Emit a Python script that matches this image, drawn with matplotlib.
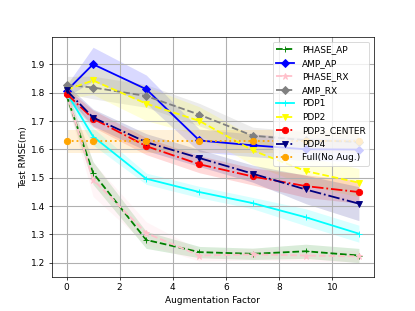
"""
Test RMSE vs augmentation factor for several augmentation methods.
"""

import numpy as np
import matplotlib.pyplot as plt

# Augmentation factors
factors = [0, 1, 3, 5, 7, 9, 11]

# Mean RMSE per method
phase_ap = [1.79, 1.516, 1.280, 1.237, 1.231, 1.240, 1.225]
amp_ap = [1.806, 1.900, 1.812, 1.631, 1.614, 1.600, 1.599]
phase_rx = [1.80, 1.493, 1.304, 1.225, 1.229, 1.225, 1.222]
amp_rx = [1.827, 1.818, 1.788, 1.722, 1.648, 1.632, 1.626]
pdp1 = [1.80, 1.645, 1.496, 1.449, 1.410, 1.360, 1.302]
pdp2 = [1.81, 1.843, 1.761, 1.700, 1.596, 1.523, 1.482]
pdp3_center = [1.796, 1.708, 1.611, 1.547, 1.504, 1.470, 1.449]
pdp4 = [1.808, 1.712, 1.625, 1.569, 1.514, 1.458, 1.408]
full = [1.628, 1.628, 1.628, 1.628, 1.628, 1.628, 1.628]

# Spread (std) per method for shaded bands
phase_ap_std = [0.02, 0.04, 0.03, 0.02, 0.02, 0.025, 0.025]
amp_ap_std = [0.02, 0.06, 0.05, 0.04, 0.04, 0.04, 0.04]
phase_rx_std = [0.03, 0.06, 0.04, 0.02, 0.02, 0.02, 0.02]
amp_rx_std = [0.03, 0.04, 0.04, 0.04, 0.03, 0.03, 0.03]
pdp1_std = [0.02, 0.03, 0.02, 0.02, 0.02, 0.03, 0.03]
pdp2_std = [0.03, 0.05, 0.06, 0.05, 0.05, 0.05, 0.05]
pdp3_center_std = [0.02, 0.03, 0.03, 0.03, 0.03, 0.04, 0.04]
pdp4_std = [0.02, 0.03, 0.03, 0.03, 0.03, 0.05, 0.06]
full_std = [0.04, 0.04, 0.04, 0.04, 0.04, 0.04, 0.04]


def main():
    fig, ax = plt.subplots(figsize=(6.4, 4.8))

    series = [
        ('PHASE_AP', phase_ap, phase_ap_std, 'green', '--', '+'),
        ('AMP_AP', amp_ap, amp_ap_std, 'blue', '-', 'D'),
        ('PHASE_RX', phase_rx, phase_rx_std, 'pink', '--', '*'),
        ('AMP_RX', amp_rx, amp_rx_std, 'gray', '--', 'D'),
        ('PDP1', pdp1, pdp1_std, 'cyan', '-', '+'),
        ('PDP2', pdp2, pdp2_std, 'yellow', '--', 'v'),
        ('PDP3_CENTER', pdp3_center, pdp3_center_std, 'red', '-.', 'o'),
        ('PDP4', pdp4, pdp4_std, 'navy', '-.', 'v'),
        ('Full(No Aug.)', full, full_std, 'orange', ':', 'o'),
    ]

    x = np.array(factors)
    for label, mean, std, color, ls, marker in series:
        mean = np.array(mean)
        std = np.array(std)
        ax.plot(x, mean, color=color, linestyle=ls, marker=marker,
                linewidth=2, markersize=7, label=label)
        ax.fill_between(x, mean - std, mean + std, color=color, alpha=0.15,
                        linewidth=0)

    ax.set_xlabel('Augmentation Factor')
    ax.set_ylabel('Test RMSE(m)')
    ax.set_ylim(1.15, 1.996)
    ax.grid(True, linewidth=1.2)
    ax.legend(loc='upper right')

    fig.savefig('out.png', dpi=64.85)


if __name__ == "__main__":
    main()
